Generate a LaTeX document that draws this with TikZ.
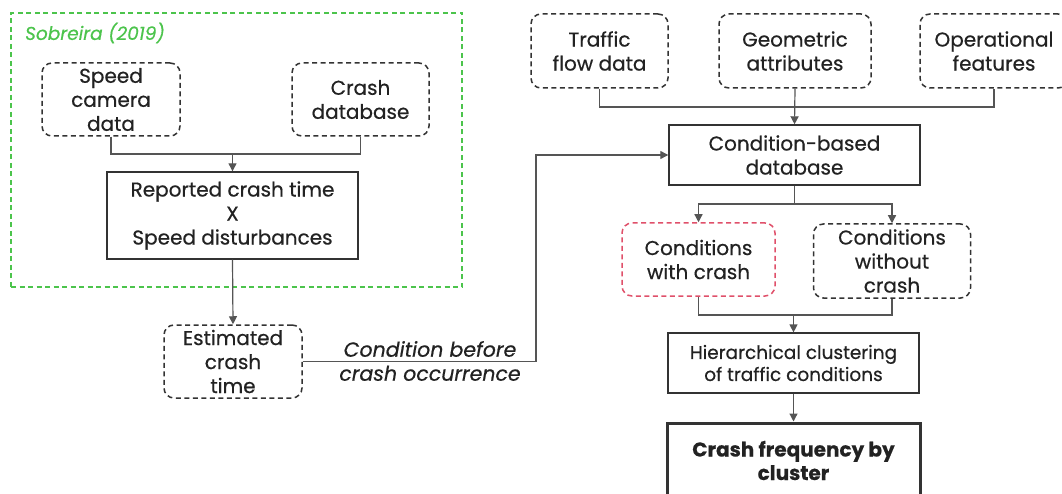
\documentclass[tikz,border=0pt]{standalone}
\usepackage{fontspec}
\setmainfont{Poppins}[FakeBold=0.5]
\usetikzlibrary{arrows.meta}
\definecolor{ink}{HTML}{222222}
\definecolor{wire}{HTML}{555555}
\definecolor{frame}{HTML}{333333}
\definecolor{grn}{HTML}{4CC44C}
\definecolor{redd}{HTML}{E0506A}
\tikzset{
  base/.style={align=center, text=ink, inner sep=0pt, font=\fontsize{20}{24}\selectfont},
  dbox/.style={base, draw=frame, line width=1.5pt, dash pattern=on 5pt off 3.5pt, rounded corners=10pt},
  sbox/.style={base, draw=frame, line width=1.4pt},
  wirestyle/.style={draw=wire, line width=1.2pt},
  arr/.style={wirestyle, -{Triangle[length=8pt,width=8pt]}},
}
\begin{document}
\begin{tikzpicture}[x=1pt,y=-1pt]
\useasboundingbox (0,0) rectangle (1062,494);
\clip (0,0) rectangle (1062,494);
\fill[white] (0,0) rectangle (1062,494);

% group frame around the earlier study's part
\node[draw=grn, line width=1.3pt, dash pattern=on 5pt off 3.5pt, minimum width=451pt, minimum height=274pt] (grp) at (236.5,150) {};
\node[base, text=grn, anchor=west, font=\fontsize{18.5}{22}\selectfont\itshape] (src) at (25,33) {Sobreira (2019)};

% left branch
\node[dbox, minimum width=138pt, minimum height=73pt] (speed) at (111,99.5) {Speed\\camera\\data};
\node[dbox, minimum width=137pt, minimum height=73pt] (crashdb) at (360.5,99.5) {Crash\\database};
\node[sbox, minimum width=251pt, minimum height=87pt] (reported) at (232.5,215.5) {Reported crash time\\X\\Speed disturbances};
\node[dbox, minimum width=138pt, minimum height=73pt] (est) at (233,361.5) {Estimated\\crash\\time};
\node[base, font=\fontsize{20.5}{24}\selectfont\itshape] (lbl) at (430,361) {Condition before\\crash occurrence};

% right branch
\node[dbox, minimum width=137pt, minimum height=74pt] (traffic) at (599.5,51) {Traffic\\flow data};
\node[dbox, minimum width=152pt, minimum height=74pt] (geom) at (795,51) {Geometric\\attributes};
\node[dbox, minimum width=148pt, minimum height=74pt] (oper) at (994,51) {Operational\\features};
\node[sbox, minimum width=251pt, minimum height=60pt] (cbd) at (794.5,155) {Condition-based\\database};
\node[dbox, draw=redd, minimum width=153pt, minimum height=73pt] (with) at (698.5,259.5) {Conditions\\with crash};
\node[dbox, minimum width=157pt, minimum height=74pt] (without) at (892,261) {Conditions\\without\\crash};
\node[sbox, line width=1.2pt, minimum width=251pt, minimum height=60pt, font=\fontsize{18.5}{22}\selectfont] (hier) at (793.5,363) {Hierarchical clustering\\of traffic conditions};
\node[sbox, line width=3pt, minimum width=253pt, minimum height=75pt, font=\fontsize{20}{23.5}\selectfont\bfseries] (freq) at (793.5,460.5) {Crash frequency by\\cluster};

% junction points
\coordinate (j1) at (232.5,154);
\coordinate (j2) at (795,107);
\coordinate (j3) at (794.5,204);
\coordinate (j4) at (793.5,315);
\coordinate (bend) at (536,361.5);

% connectors
\draw[wirestyle] (speed.south) |- (j1) -| (crashdb.south);
\draw[arr] (j1) -- (reported.north);
\draw[arr] (reported.south) -- (est.north);
\draw[arr] (est.east) -- (bend) |- (cbd.west);

\draw[wirestyle] (traffic.south) |- (j2) -| (oper.south);
\draw[arr] (geom.south) -- (cbd.north);
\draw[wirestyle] (cbd.south) -- (j3);
\draw[arr] (j3) -| (with.north);
\draw[arr] (j3) -| (without.north);
\draw[wirestyle] (with.south) |- (j4) -| (without.south);
\draw[arr] (j4) -- (hier.north);
\draw[arr] (hier.south) -- (freq.north);
\end{tikzpicture}
\end{document}
